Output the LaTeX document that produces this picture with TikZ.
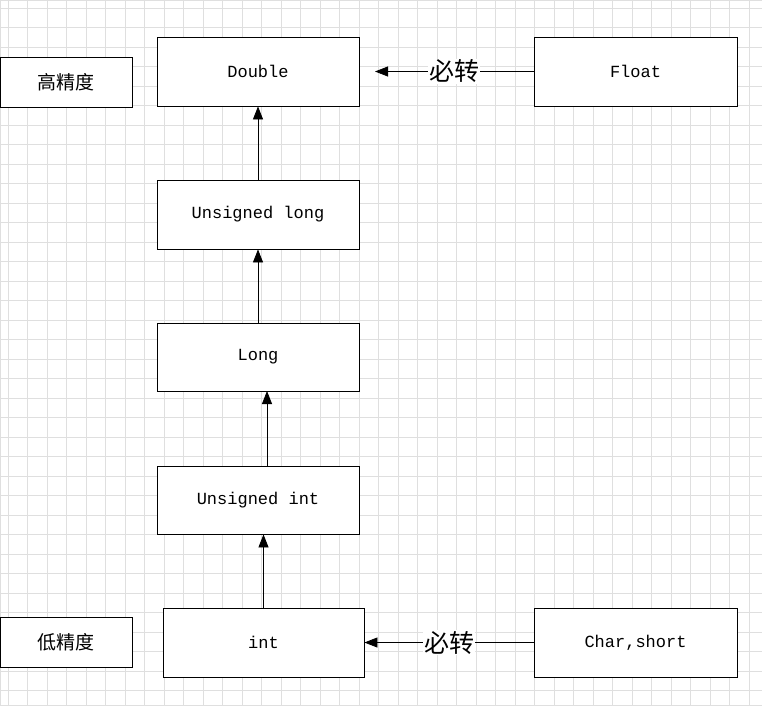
\documentclass[tikz,border=0pt]{standalone}
\usepackage{fontspec}
\setmainfont{Liberation Mono}
\newfontfamily\cjk{Noto Sans CJK SC}
\usetikzlibrary{arrows.meta}
\tikzset{
	box/.style={draw=black, thick, fill=white, inner sep=0pt, font=\fontsize{17}{20}\selectfont},
	tag/.style={box, font=\cjk\fontsize{19}{22}\selectfont},
	conv/.style={thick, -{Triangle[length=13pt, width=10pt]}},
	must/.style={fill=white, inner sep=1pt, font=\cjk\fontsize{25}{28}\selectfont}
}
\begin{document}
\begin{tikzpicture}[x=1pt, y=-1pt]
	\useasboundingbox (0,0) rectangle (762,705);
	% Raster
	\draw[gray!25, line width=0.6pt] (0,0) rectangle (762,705);
	\foreach \x in {0,...,39}
		\draw[gray!25, line width=0.6pt] (8+\x*19.5, 0) -- (8+\x*19.5, 705);
	\foreach \y in {0,...,36}
		\draw[gray!25, line width=0.6pt] (0, 8+\y*19.5) -- (762, 8+\y*19.5);
	% Kaesten
	\node[tag, minimum width=132pt, minimum height=50pt] (high) at (66, 82) {高精度};
	\node[tag, minimum width=132pt, minimum height=50pt] (low) at (66, 642) {低精度};
	\node[box, minimum width=202pt, minimum height=69pt] (dbl) at (258, 71.5) {Double};
	\node[box, minimum width=203pt, minimum height=69pt] (flt) at (635.5, 71.5) {Float};
	\node[box, minimum width=202pt, minimum height=69pt] (ulong) at (258, 214.5) {Unsigned long};
	\node[box, minimum width=202pt, minimum height=68pt] (long) at (258, 357) {Long};
	\node[box, minimum width=202pt, minimum height=68pt] (uint) at (258, 500) {Unsigned int};
	\node[box, minimum width=201pt, minimum height=69pt] (int) at (263.5, 642.5) {int};
	\node[box, minimum width=203pt, minimum height=69pt] (chr) at (635.5, 642.5) {Char,short};
	% Pfeile
	\draw[conv] (ulong.north) -- (dbl.south);
	\draw[conv] (long.north) -- (ulong.south);
	\coordinate (uintTop) at (267, 466);
	\coordinate (longBot) at (267, 391);
	\draw[conv] (uintTop) -- (longBot);
	\draw[conv] (int.north) -- (int.north |- uint.south);
	\coordinate (dblEnd) at (375, 71.5);
	\draw[conv] (flt.west) -- (dblEnd) node[must, pos=0.5] (m1) {必转};
	\draw[conv] (chr.west) -- (int.east) node[must, pos=0.5] (m2) {必转};
\end{tikzpicture}
\end{document}
